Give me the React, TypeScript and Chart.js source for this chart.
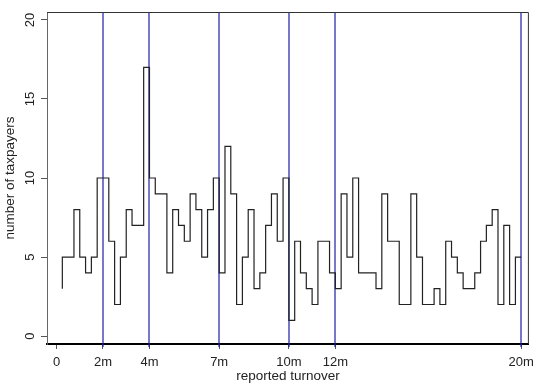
import React, { useEffect, useRef } from 'react';
import { Chart, registerables } from 'chart.js';

Chart.register(...registerables);

// upper edge of each 0.25m turnover bin (millions)
const binEnds = [
  0.25, 0.5, 0.75, 1.0, 1.25, 1.5, 1.75, 2.0,
  2.25, 2.5, 2.75, 3.0, 3.25, 3.5, 3.75, 4.0,
  4.25, 4.5, 4.75, 5.0, 5.25, 5.5, 5.75, 6.0,
  6.25, 6.5, 6.75, 7.0, 7.25, 7.5, 7.75, 8.0,
  8.25, 8.5, 8.75, 9.0, 9.25, 9.5, 9.75, 10.0,
  10.25, 10.5, 10.75, 11.0, 11.25, 11.5, 11.75, 12.0,
  12.25, 12.5, 12.75, 13.0, 13.25, 13.5, 13.75, 14.0,
  14.25, 14.5, 14.75, 15.0, 15.25, 15.5, 15.75, 16.0,
  16.25, 16.5, 16.75, 17.0, 17.25, 17.5, 17.75, 18.0,
  18.25, 18.5, 18.75, 19.0, 19.25, 19.5, 19.75, 20.0,
];

// number of taxpayers in each bin
const counts = [
  3, 5, 5, 8, 5, 4, 5, 10,
  10, 6, 2, 5, 8, 7, 7, 17,
  10, 9, 9, 4, 8, 7, 6, 9,
  8, 5, 8, 10, 4, 12, 9, 2,
  5, 8, 3, 4, 7, 9, 6, 10,
  1, 6, 4, 3, 2, 6, 6, 4,
  3, 9, 5, 10, 4, 4, 4, 3,
  9, 6, 6, 2, 2, 9, 5, 2,
  2, 3, 2, 6, 5, 4, 3, 3,
  4, 6, 7, 8, 2, 7, 2, 5,
];

const xTickValues = [0, 2, 4, 7, 10, 12, 20];
const thresholdLines = [2, 4, 7, 10, 12, 20];
const yTickValues = [0, 5, 10, 15, 20];

const xTitle = 'reported turnover';
const yTitle = 'number of taxpayers';

const FONT = "'Liberation Sans', Arial, sans-serif";

const thresholdPlugin = {
  id: 'thresholds',
  beforeDatasetsDraw(chart: any) {
    const { ctx, chartArea, scales } = chart;
    const { top, bottom } = chartArea;
    ctx.save();
    ctx.strokeStyle = '#1e1ea8';
    ctx.lineWidth = 1.2;
    thresholdLines.forEach((v) => {
      const raw = scales.x.getPixelForValue(v);
      const px = 2 * Math.round((raw - 1) / 2) + 1;
      ctx.beginPath();
      ctx.moveTo(px, top + 1);
      ctx.lineTo(px, bottom + 3);
      ctx.stroke();
    });
    ctx.restore();
  },
};

const framePlugin = {
  id: 'frame',
  afterDraw(chart: any) {
    const { ctx, chartArea } = chart;
    const { left, right, top, bottom } = chartArea;
    ctx.save();
    ctx.strokeStyle = '#333';
    ctx.lineWidth = 1;
    ctx.beginPath();
    ctx.moveTo(left, top + 0.5);
    ctx.lineTo(right - 0.5, top + 0.5);
    ctx.lineTo(right - 0.5, bottom);
    ctx.stroke();
    ctx.restore();
  },
};

export default function App() {
  const ref = useRef<HTMLCanvasElement | null>(null);

  useEffect(() => {
    if (!ref.current) return;
    const data = binEnds.map((x, i) => ({ x, y: counts[i] }));
    const chart = new Chart(ref.current, {
      type: 'line',
      data: {
        datasets: [
          {
            data,
            stepped: 'after',
            borderColor: '#222',
            borderWidth: 1.2,
            pointRadius: 0,
            fill: false,
          },
        ],
      },
      options: {
        responsive: false,
        animation: false,
        layout: { autoPadding: false, padding: { top: 12, right: 8, left: 0, bottom: 0 } },
        plugins: {
          legend: { display: false },
          tooltip: { enabled: false },
        },
        scales: {
          x: {
            type: 'linear',
            min: -0.41,
            max: 20.33,
            afterBuildTicks: (scale: any) => {
              scale.ticks = xTickValues.map((v) => ({ value: v }));
            },
            afterFit: (scale: any) => {
              scale.height = 40;
            },
            grid: {
              display: true,
              drawOnChartArea: false,
              drawTicks: true,
              tickColor: '#555',
              tickLength: 5,
            },
            border: { display: true, color: '#000', width: 2 },
            ticks: {
              autoSkip: false,
              maxRotation: 0,
              padding: 6,
              color: '#222',
              font: { family: FONT, size: 13 },
              callback: (v: any) => (v === 0 ? '0' : v + 'm'),
            },
            title: {
              display: true,
              text: xTitle,
              color: '#222',
              font: { family: FONT, size: 13.5 },
              padding: { top: 0, bottom: 0 },
            },
          },
          y: {
            type: 'linear',
            min: -0.5,
            max: 20.5,
            afterBuildTicks: (scale: any) => {
              scale.ticks = yTickValues.map((v) => ({ value: v }));
            },
            afterFit: (scale: any) => {
              scale.width = 47;
            },
            grid: {
              drawOnChartArea: false,
              tickColor: '#555',
              tickLength: 6,
            },
            border: { display: true, color: '#666', width: 1 },
            ticks: {
              minRotation: 90,
              maxRotation: 90,
              crossAlign: 'center',
              padding: 3,
              color: '#222',
              font: { family: FONT, size: 13 },
            },
            title: {
              display: true,
              text: yTitle,
              color: '#222',
              font: { family: FONT, size: 13.5 },
              padding: { top: 2, bottom: 0 },
            },
          },
        },
      },
      plugins: [thresholdPlugin, framePlugin],
    } as any);
    return () => chart.destroy();
  }, []);

  return (
    <div style={{ position: 'absolute', left: 0, top: 0, width: 540, height: 384, background: '#fff' }}>
      <canvas ref={ref} width={540} height={384} style={{ display: 'block' }} />
    </div>
  );
}
